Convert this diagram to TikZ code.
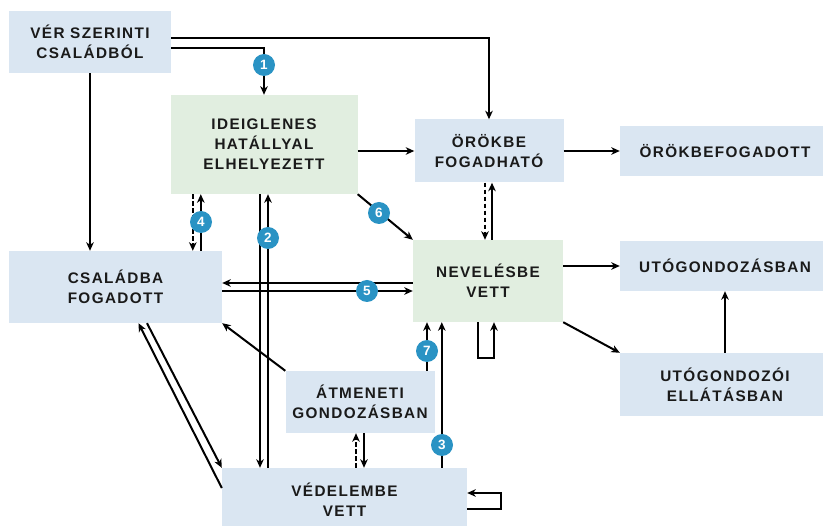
\documentclass[tikz,border=0pt]{standalone}
\usepackage{fontspec}
\setmainfont{Liberation Sans}
\newfontfamily\lblfont{Liberation Sans}[LetterSpace=9]
\usetikzlibrary{arrows.meta,calc}
\definecolor{boxblue}{HTML}{DAE6F2}
\definecolor{boxgreen}{HTML}{E1EEE0}
\definecolor{badgeblue}{HTML}{2A93C4}
\definecolor{txt}{HTML}{1A1A1A}
\begin{document}
\begin{tikzpicture}[x=1pt,y=-1pt,
  box/.style={fill=boxblue,inner sep=0pt,align=center,text=txt,
    font=\lblfont\bfseries\fontsize{15.3}{20}\selectfont},
  gbox/.style={box,fill=boxgreen},
  arr/.style={line width=2pt,-{Stealth[length=8.5pt,width=7.5pt,inset=2.5pt]}},
  dsh/.style={arr,dash pattern=on 4.5pt off 2.5pt},
  badge/.style={circle,fill=badgeblue,minimum size=22pt,inner sep=0pt,text=white,
    font=\bfseries\fontsize{13.5}{13.5}\selectfont}]
\useasboundingbox (0,0) rectangle (823,526);
\clip (0,0) rectangle (823,526);
% nodes
\node[box,minimum width=162pt,minimum height=62pt] (ver) at (90,42) {VÉR SZERINTI\\CSALÁDBÓL};
\node[gbox,minimum width=187pt,minimum height=99pt] (ideig) at (264,144.5) {IDEIGLENES\\HATÁLLYAL\\ELHELYEZETT};
\node[box,minimum width=149pt,minimum height=63pt] (orokbe) at (489,151) {ÖRÖKBE\\FOGADHATÓ};
\node[box,minimum width=210pt,minimum height=50pt] (orokbef) at (725,151) {ÖRÖKBEFOGADOTT};
\node[gbox,minimum width=150pt,minimum height=82pt] (nev) at (488,281) {NEVELÉSBE\\VETT};
\node[box,minimum width=210pt,minimum height=50pt] (utog) at (725,266) {UTÓGONDOZÁSBAN};
\node[box,minimum width=210pt,minimum height=63pt] (utogell) at (725,384.5) {UTÓGONDOZÓI\\ELLÁTÁSBAN};
\node[box,minimum width=213pt,minimum height=72pt] (csal) at (115.5,287) {CSALÁDBA\\FOGADOTT};
\node[box,minimum width=149pt,minimum height=62pt] (atm) at (360,402) {ÁTMENETI\\GONDOZÁSBAN};
\node[box,minimum width=245pt,minimum height=64pt] (ved) at (344.5,500) {VÉDELEMBE\\VETT};
% helper coordinates
\coordinate (v1) at ([yshift=4pt]ver.east);
\coordinate (v2) at ([yshift=-6pt]ver.east);
\coordinate (i4a) at ([xshift=22.5pt]ideig.south west);
\coordinate (i4b) at ([xshift=30.5pt]ideig.south west);
\coordinate (i2a) at ([xshift=-4pt]ideig.south);
\coordinate (i2b) at ([xshift=4pt]ideig.south);
\coordinate (c5a) at ([yshift=4pt]csal.east);
\coordinate (c5b) at ([yshift=-4pt]csal.east);
\coordinate (o9a) at ([xshift=-4pt]orokbe.south);
\coordinate (o9b) at ([xshift=3pt]orokbe.south);
\coordinate (u13) at (utogell.north);
\coordinate (nla) at ([xshift=-10pt]nev.south);
\coordinate (nlb) at ([xshift=6pt]nev.south);
\coordinate (a7) at ([xshift=67pt]atm.north);
\coordinate (n3) at ([xshift=29pt]nev.south west);
\coordinate (a8a) at ([xshift=-4pt]atm.south);
\coordinate (a8b) at ([xshift=4pt]atm.south);
\coordinate (cs1) at ([xshift=31.5pt]csal.south);
\coordinate (cs2) at ([xshift=23pt]csal.south);
\coordinate (vw) at ([yshift=12pt]ved.west);
\coordinate (vla) at ([yshift=-9pt]ved.east);
\coordinate (vlb) at ([yshift=7pt]ved.east);
% connectors
\draw[arr] (v1) -| (orokbe.north);
\draw[arr] (v2) -| (ideig.north);
\draw[arr] (ver.south) -- (ver.south |- csal.north);
\draw[arr] (ideig.east |- orokbe.west) -- (orokbe.west);
\draw[dsh] (i4a) -- (i4a |- csal.north);
\draw[arr] (i4b |- csal.north) -- (i4b);
\draw[arr] (i2a) -- (i2a |- ved.north);
\draw[arr] (i2b |- ved.north) -- (i2b);
\draw[arr] (ideig.south east) -- (nev.north west);
\draw[arr] (c5a -| nev.west) -- (c5a);
\draw[arr] (c5b) -- (c5b -| nev.west);
\draw[dsh] (o9a) -- (o9a |- nev.north);
\draw[arr] (o9b |- nev.north) -- (o9b);
\draw[arr] (orokbe.east) -- (orokbe.east -| orokbef.west);
\draw[arr] (utog.west -| nev.east) -- (utog.west);
\draw[arr] (nev.south east) -- (utogell.north west);
\draw[arr] (u13) -- (u13 |- utog.south);
\draw[arr] (nla) -- ++(0,36) -| (nlb);
\draw[arr] (a7) -- (a7 |- nev.south);
\draw[arr] (n3 |- ved.north) -- (n3);
\draw[arr] (atm.north west) -- (csal.south east);
\draw[dsh] (a8a |- ved.north) -- (a8a);
\draw[arr] (a8b) -- (a8b |- ved.north);
\draw[arr] (cs1) -- (ved.north west);
\draw[arr] (vw) -- (cs2);
\draw[arr] (vla) -- ++(34,0) |- (vlb);
% badges
\node[badge] (b1) at (264,65) {1};
\node[badge] (b2) at (268,238) {2};
\node[badge] (b3) at (442,445) {3};
\node[badge] (b4) at (201,222) {4};
\node[badge] (b5) at (367,291) {5};
\node[badge] (b6) at (379,213) {6};
\node[badge] (b7) at (427,351) {7};
\end{tikzpicture}
\end{document}
